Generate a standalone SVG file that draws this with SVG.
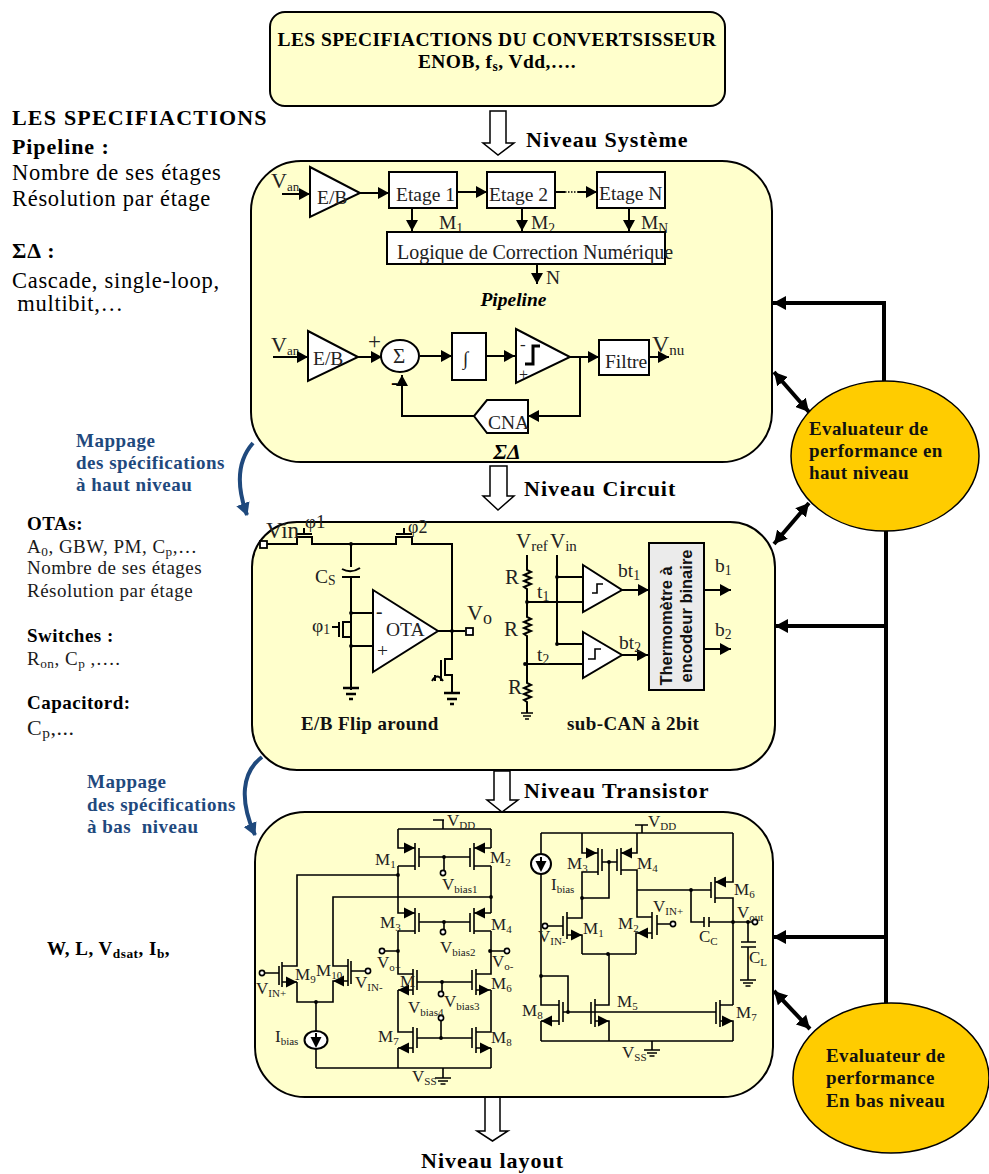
<svg xmlns="http://www.w3.org/2000/svg" width="989" height="1174" viewBox="0 0 989 1174">
<style>
text{font-family:"Liberation Serif","Times New Roman",serif;fill:#000;white-space:pre}
.ss{font-family:"Liberation Sans",Arial,sans-serif;font-weight:bold;font-size:16.5px;fill:#111}
.b{font-weight:bold}
.top{font-weight:bold;font-size:19.5px;letter-spacing:.43px}
.cap{font-weight:bold;font-size:19px;letter-spacing:.4px;fill:#111}
.h{font-weight:bold;font-size:22px;letter-spacing:1px}
.l{font-size:22.5px;letter-spacing:.7px}
.lb{font-weight:bold;font-size:22px;letter-spacing:.9px}
.lt{font-weight:bold;font-size:22px;letter-spacing:1.2px}
.m{font-size:19px;letter-spacing:.5px;fill:#1a1a1a}
.mb{font-weight:bold;font-size:19px;letter-spacing:.5px}
.bl{font-weight:bold;font-size:19px;letter-spacing:.5px;fill:#1F497D}
.e{font-weight:bold;font-size:19px;letter-spacing:.4px;fill:#111}
.t{font-size:19.5px;fill:#222}
.c{font-size:17px;fill:#222}
.c .s{font-size:11px}
.s{font-size:.7em}
.block{fill:#FFFFCC;stroke:#000;stroke-width:2}
.box{fill:#fff;stroke:#000;stroke-width:2}
.w{fill:none;stroke:#000;stroke-width:1.6}
.w2{fill:none;stroke:#000;stroke-width:2}
.thick{fill:none;stroke:#000;stroke-width:4}
.hollow{fill:#fff;stroke:#000;stroke-width:1.5}
.eval{fill:#FFCC00;stroke:#000;stroke-width:1.5}
.open{fill:#fff;stroke:#000;stroke-width:1.8}
.blue{fill:none;stroke:#1F497D;stroke-width:4}
</style>
<defs>
<marker id="a" markerUnits="userSpaceOnUse" markerWidth="12" markerHeight="12" refX="11" refY="6" orient="auto"><path d="M0,0L11,6L0,12Z" fill="#000"/></marker>
<marker id="big" markerUnits="userSpaceOnUse" markerWidth="14" markerHeight="14" refX="13" refY="7" orient="auto-start-reverse"><path d="M0,0L13,7L0,14Z" fill="#000"/></marker>
<marker id="mb" markerUnits="userSpaceOnUse" markerWidth="14" markerHeight="14" refX="12" refY="7" orient="auto"><path d="M0,0L13,7L0,14Z" fill="#1F497D"/></marker>
<path id="ar" d="M0,0L-11,-5.5L-11,5.5Z" fill="#000"/>
<circle id="n" r="1.9" fill="#000"/>
<circle id="o" r="2.6" fill="#fff" stroke="#000" stroke-width="1.6"/>
<path id="g" d="M-8,0H8M-5,3H5M-2.5,6H2.5" fill="none" stroke="#000" stroke-width="1.5"/>
<path id="G" d="M-8,0H8M-5,6H5M-2,11H2" fill="none" stroke="#000" stroke-width="2.5"/>
</defs>

<g id="connectors">
<g id="level-arrows">
<path class="hollow" d="M490,111H506V143H514L498,155L483,143H490Z"/>
<path class="hollow" d="M490,466H507V496H514L498,510L483,496H490Z"/>
<path class="hollow" d="M494,771H510V800H518L502,812L487,800H494Z"/>
<path class="hollow" d="M485,1097H500V1131H508L492.5,1141L477,1131H485Z"/>
</g>
<g id="feedback">
<path class="thick" d="M884,381V303H773" marker-end="url(#big)"/>
<path class="thick" d="M886,531V1003"/>
<path class="thick" d="M886,626H775" marker-end="url(#big)"/>
<path class="thick" d="M886,937H773" marker-end="url(#big)"/>
<path class="thick" d="M774,372L809,412" marker-start="url(#big)" marker-end="url(#big)"/>
<path class="thick" d="M809,503L774,544" marker-start="url(#big)" marker-end="url(#big)"/>
<path class="thick" d="M774,991L810,1029" marker-start="url(#big)" marker-end="url(#big)"/>
</g>
<g id="mapping">
<path class="blue" d="M253,443C238,460 236,485 247,515" marker-end="url(#mb)"/>
<path class="blue" d="M262,757C242,772 239,800 255,835" marker-end="url(#mb)"/>
</g>
</g>

<g id="spec-box">
<rect class="block" x="270" y="12" width="455" height="94" rx="15"/>
<text class="top" x="497" y="46" text-anchor="middle">LES SPECIFIACTIONS DU CONVERTSISSEUR</text>
<text class="top" x="497" y="68" text-anchor="middle">ENOB, f<tspan class="s" dy="3">s</tspan><tspan dy="-3">, Vdd,….</tspan></text>
</g>

<g id="left-notes">
<text class="lt" x="12" y="125">LES SPECIFIACTIONS</text>
<text class="lb" x="12" y="154" font-size="20">Pipeline :</text>
<text class="l" x="12" y="180">Nombre de ses étages</text>
<text class="l" x="12" y="206">Résolution par étage</text>
<text class="lb" x="12" y="258">ΣΔ :</text>
<text class="l" x="12" y="288">Cascade, single-loop,</text>
<text class="l" x="11" y="311"> multibit,…</text>
<text class="bl" x="76" y="447">Mappage</text>
<text class="bl" x="76" y="469">des spécifications</text>
<text class="bl" x="76" y="491">à haut niveau</text>
<text class="mb" x="27" y="530">OTAs:</text>
<text class="m" x="27" y="553">A<tspan class="s" dy="3">0</tspan><tspan dy="-3">, GBW, PM, C</tspan><tspan class="s" dy="3">p</tspan><tspan dy="-3">,…</tspan></text>
<text class="m" x="27" y="574">Nombre de ses étages</text>
<text class="m" x="27" y="597">Résolution par étage</text>
<text class="mb" x="27" y="642">Switches :</text>
<text class="m" x="27" y="665">R<tspan class="s" dy="3">on</tspan><tspan dy="-3">, C</tspan><tspan class="s" dy="3">p</tspan><tspan dy="-3"> ,….</tspan></text>
<text class="mb" x="27" y="709">Capacitord:</text>
<text class="m" x="27" y="735" style="font-size:22px">C<tspan class="s" dy="3">p</tspan><tspan dy="-3">,...</tspan></text>
<text class="bl" x="87" y="788">Mappage</text>
<text class="bl" x="87" y="811">des spécifications</text>
<text class="bl" x="87" y="833">à bas  niveau</text>
<text class="mb" x="47" y="955">W, L, V<tspan class="s" dy="3">dsat</tspan><tspan dy="-3">, I</tspan><tspan class="s" dy="3">b</tspan><tspan dy="-3">,</tspan></text>
</g>

<text class="h" x="526" y="147">Niveau Système</text>
<text class="h" x="524" y="496">Niveau Circuit</text>
<text class="h" x="524" y="798">Niveau Transistor</text>
<text class="h" x="421" y="1168">Niveau layout</text>

<g id="system-level">
<rect class="block" x="251" y="161" width="521" height="301" rx="50"/>
<g id="pipeline-labels">
<text class="t" x="271" y="188" style="font-size:22px">V<tspan class="s" dy="3" style="font-size:13px">an</tspan></text>
<text class="t" x="439" y="229">M<tspan class="s" dy="4">1</tspan></text>
<text class="t" x="531" y="229">M<tspan class="s" dy="4">2</tspan></text>
<text class="t" x="641" y="229">M<tspan class="s" dy="4">N</tspan></text>
</g>
<g id="pipeline-connectors">
<path class="w2" d="M282,194H310" marker-end="url(#a)"/>
<path class="w2" d="M360,193H389" marker-end="url(#a)"/>
<path class="w2" d="M457,192H487" marker-end="url(#a)"/>
<path class="w2" d="M556,192H565"/>
<path class="w" stroke-dasharray="1.5 1.5" d="M565,192H578"/>
<path class="w2" d="M578,192H597" marker-end="url(#a)"/>
<path class="w2" d="M412,208V231" marker-end="url(#a)"/>
<path class="w2" d="M522,208V231" marker-end="url(#a)"/>
<path class="w2" d="M629,208V231" marker-end="url(#a)"/>
<path class="w2" d="M537,264V284" marker-end="url(#a)"/>
</g>
<g id="eb1"><path class="box" d="M310,167L360,193L310,217Z"/><text class="t" x="317" y="204">E/B</text></g>
<g id="etage1"><rect class="box" x="389" y="172" width="68" height="36"/><text class="t" x="396" y="201">Etage 1</text></g>
<g id="etage2"><rect class="box" x="487" y="172" width="68" height="36"/><text class="t" x="489" y="201">Etage 2</text></g>
<g id="etageN"><rect class="box" x="597" y="172" width="68" height="36"/><text class="t" x="599" y="200">Etage N</text></g>
<g id="logique"><rect class="box" x="387" y="232" width="278" height="32"/><text class="t" x="397" y="259" style="font-size:20px">Logique de Correction Numérique</text></g>
<text class="t" x="546" y="284">N</text>
<text class="b" x="513.5" y="306" text-anchor="middle" font-size="19.5" font-style="italic" fill="#111">Pipeline</text>

<text class="t" x="271" y="352" style="font-size:22px">V<tspan class="s" dy="3" style="font-size:13px">an</tspan></text>
<g id="sd-connectors">
<path class="w2" d="M273,357H308" marker-end="url(#a)"/>
<path class="w2" d="M358,357H382" marker-end="url(#a)"/>
<path class="w2" d="M420,356H452" marker-end="url(#a)"/>
<path class="w2" d="M486,356H515" marker-end="url(#a)"/>
<path class="w2" d="M570,357H599" marker-end="url(#a)"/>
<path class="w2" d="M580,357V416H528" marker-end="url(#a)"/>
<path class="w2" d="M474,416H402V375" marker-end="url(#a)"/>
<path class="w2" d="M649,357H669" marker-end="url(#a)"/>
</g>
<g id="eb2"><path class="box" d="M308,331L358,357L308,381Z"/><text class="t" x="313" y="365">E/B</text></g>
<g id="sum"><ellipse class="box" cx="400" cy="356" rx="19" ry="16"/><text class="t" x="393" y="363" style="font-size:21px">Σ</text></g>
<text class="t" x="368" y="349" style="font-size:23px">+</text>
<text class="b" x="391" y="389" font-size="22">-</text>
<g id="integ"><rect class="box" x="452" y="333" width="34" height="47"/><text class="t" x="463" y="365" style="font-size:19px">∫</text></g>
<g id="comp"><path class="box" d="M516,329L570,357L516,383Z"/><path class="thick" style="stroke-width:3" d="M525,364H533V346H540"/><text class="t" x="520" y="350" style="font-size:17px">-</text><text class="t" x="519" y="380" style="font-size:16px">+</text></g>
<g id="filtre"><rect class="box" x="599" y="340" width="50" height="35"/><text class="t" x="605" y="368">Filtre</text></g>
<text class="t" x="652" y="352" style="font-size:24px">V<tspan dy="3" style="font-size:15px">nu</tspan></text>
<g id="cna"><path class="box" d="M528,400H487L474,416L487,433H528Z"/><text class="t" x="488" y="429">CNA</text></g>
<text class="b" x="507" y="459" text-anchor="middle" font-size="22" font-style="italic" fill="#111">ΣΔ</text>
</g>

<g id="circuit-level">
<rect class="block" x="252" y="522" width="523" height="248" rx="45"/>
<g id="flip-around">
<path class="w2" d="M267,544H297V537H312V544H396V537H412V544H452V659H445V675H452V693"/>
<path class="w2" d="M351,544V567M351,578V690M351,613H373M351,646H373M351,622H343V637H351"/>
<path class="w2" d="M339,622V637M332,627H339"/>
<path class="w2" d="M297,534H312M396,534H412M304,528V534M404,528V534"/>
<path class="w2" d="M342,577H360"/><path class="w2" d="M342,569Q351,574 360,568"/>
<path class="box" d="M373,590L438,631L373,672Z"/>
<path class="w2" d="M438,631H465"/>
<rect class="open" x="466" y="628" width="7" height="7"/>
<rect class="open" x="260" y="541" width="7" height="7"/>
<path class="w2" d="M441,660V675M435,675V681M441,675V681M432,681Q437,672 443,681"/>
<use href="#n" x="351" y="544"/><use href="#n" x="351" y="613"/><use href="#n" x="351" y="646"/><use href="#n" x="452" y="631"/>
<use href="#G" x="351" y="688"/><use href="#G" x="452" y="693"/>
<text class="t" x="266" y="538" style="font-size:23px">Vin</text>
<text class="t" x="305" y="528" style="font-size:19px">φ1</text>
<text class="t" x="408" y="533" style="font-size:18px">φ2</text>
<text class="t" x="315" y="583">C<tspan class="s" dy="2">S</tspan></text>
<text class="t" x="312" y="632">φ<tspan class="s" dy="2">1</tspan></text>
<text class="t" x="376" y="618" font-weight="bold">-</text>
<text class="t" x="377" y="657">+</text>
<text class="t" x="386" y="636">OTA</text>
<text class="t" x="467" y="620" style="font-size:22px">V<tspan dy="4" style="font-size:18px">o</tspan></text>
<text class="cap" x="301" y="730">E/B Flip around</text>
</g>
<g id="sub-can">
<path class="w2" d="M527,555V570l4,2l-7,3l7,3l-7,3l7,3l-7,3l3,2V617l4,2l-7,3l7,3l-7,3l7,3l-7,3l3,2V683l4,2l-7,3l7,3l-7,3l7,3l-7,3l3,2V713"/>
<path class="w2" d="M557,555V644H583M557,577H583M527,602H583M525,664H583"/>
<path class="box" d="M583,565L622,590L583,612Z"/>
<path class="box" d="M583,632L622,655L583,678Z"/>
<path class="w" d="M592,593H597V584H603M588,659H595V649H601"/>
<path class="w2" d="M622,590H649" marker-end="url(#a)"/>
<path class="w2" d="M622,655H648" marker-end="url(#a)"/>
<path class="w2" d="M704,590H731" marker-end="url(#a)"/>
<path class="w2" d="M704,649H731" marker-end="url(#a)"/>
<use href="#n" x="557" y="577"/><use href="#n" x="557" y="644"/><use href="#n" x="527" y="602"/><use href="#n" x="525" y="664"/>
<path class="w" d="M521,713H533M523,716H531M525,719H529"/>
<rect x="649" y="543" width="55" height="147" fill="#EBEBEB" stroke="#000" stroke-width="2"/>
<text class="ss" transform="translate(672,626) rotate(-90)" text-anchor="middle">Thermomètre à</text>
<text class="ss" transform="translate(692,616) rotate(-90)" text-anchor="middle">encodeur binaire</text>
<text class="t" x="516" y="548" style="font-size:21px">V<tspan dy="3" style="font-size:15px">ref</tspan></text>
<text class="t" x="550" y="548" style="font-size:21px">V<tspan dy="3" style="font-size:15px">in</tspan></text>
<text class="t" x="505" y="584" style="font-size:21px">R</text>
<text class="t" x="504" y="636" style="font-size:21px">R</text>
<text class="t" x="508" y="694" style="font-size:21px">R</text>
<text class="t" x="537" y="598">t<tspan class="s" dy="3">1</tspan></text>
<text class="t" x="537" y="661">t<tspan class="s" dy="3">2</tspan></text>
<text class="t" x="618" y="577">bt<tspan class="s" dy="3">1</tspan></text>
<text class="t" x="619" y="649">bt<tspan class="s" dy="3">2</tspan></text>
<text class="t" x="715" y="572">b<tspan class="s" dy="3">1</tspan></text>
<text class="t" x="715" y="636">b<tspan class="s" dy="3">2</tspan></text>
<text class="cap" x="567" y="730">sub-CAN à 2bit</text>
</g>
</g>

<g id="transistor-level">
<rect class="block" x="255" y="812" width="518" height="285" rx="50"/>
<g id="ota-left">
<path class="w" d="M433,820H444M443,820V829M398,829H491"/>
<path class="w" d="M398,829V848H415M415,843V870M398,866H415M419,848V867M419,857H470M470,848V867M474,843V870M474,848H491M474,866H491M491,829V848"/>
<path class="w" d="M398,866V913H415M415,908V934M398,931H415M419,913V932M419,922H470M470,913V932M474,908V934M474,913H491M474,931H491M491,866V913"/>
<path class="w" d="M444,857V871M444,922V931"/>
<path class="w" d="M398,875H297V966H282M491,897H333V966H348"/>
<path class="w" d="M398,931V974H413M382,951H398M491,931V974H476M491,951H505"/>
<path class="w" d="M413,969V995M417,970V990M417,982H472M472,970V990M476,969V995M442,982V993"/>
<path class="w" d="M398,990H413M398,990V1032H413M491,990H476M491,990V1032H476"/>
<path class="w" d="M413,1027V1053M417,1028V1048M417,1038H472M472,1028V1048M476,1027V1053M441,1038V1021"/>
<path class="w" d="M398,1048H413M398,1048V1068M491,1048H476M491,1048V1068M316,1068H491M443,1068V1078"/>
<path class="w" d="M265,973H279M279,966V985M282,962V987M297,982H282M297,982V1002H333V981H348M348,959V986M351,961V984M351,971H365"/>
<path class="w" d="M316,1002V1031M316,1049V1068"/>
<ellipse cx="316" cy="1040" rx="11.5" ry="9" fill="#fff" stroke="#000" stroke-width="2"/>
<path class="w2" d="M316,1033V1042"/><use href="#ar" transform="translate(316,1048) rotate(90)"/>
<use href="#ar" x="415" y="848"/><use href="#ar" transform="translate(474,848) rotate(180)"/>
<use href="#ar" x="415" y="913"/><use href="#ar" transform="translate(474,913) rotate(180)"/>
<use href="#ar" transform="translate(398,990) rotate(180)"/><use href="#ar" x="490" y="990"/>
<use href="#ar" transform="translate(398,1048) rotate(180)"/><use href="#ar" x="491" y="1048"/>
<use href="#ar" x="297" y="982"/><use href="#ar" transform="translate(333,981) rotate(180)"/>
<use href="#n" x="444" y="857"/><use href="#n" x="444" y="922"/><use href="#n" x="398" y="875"/><use href="#n" x="491" y="897"/><use href="#n" x="398" y="951"/><use href="#n" x="490" y="951"/><use href="#n" x="442" y="982"/><use href="#n" x="441" y="1038"/><use href="#n" x="316" y="1002"/>
<use href="#o" x="443" y="873"/><use href="#o" x="443" y="932"/><use href="#o" x="382" y="951"/><use href="#o" x="507" y="951"/><use href="#o" x="441" y="994"/><use href="#o" x="441" y="1018"/><use href="#o" x="262" y="973"/><use href="#o" x="368" y="971"/>
<use href="#g" x="443" y="1078"/>
<text class="c" x="447" y="826">V<tspan class="s" dy="3">DD</tspan></text>
<text class="c" x="375" y="865">M<tspan class="s" dy="3">1</tspan></text>
<text class="c" x="490" y="863">M<tspan class="s" dy="3">2</tspan></text>
<text class="c" x="442" y="890">V<tspan class="s" dy="3">bias1</tspan></text>
<text class="c" x="380" y="928">M<tspan class="s" dy="3">3</tspan></text>
<text class="c" x="491" y="930">M<tspan class="s" dy="3">4</tspan></text>
<text class="c" x="440" y="953">V<tspan class="s" dy="3">bias2</tspan></text>
<text class="c" x="377" y="968">V<tspan class="s" dy="3">o+</tspan></text>
<text class="c" x="492" y="967">V<tspan class="s" dy="3">o-</tspan></text>
<text class="c" x="295" y="980">M<tspan class="s" dy="3">9</tspan></text>
<text class="c" x="316" y="976">M<tspan class="s" dy="3">10</tspan></text>
<text class="c" x="256" y="994">V<tspan class="s" dy="3">IN+</tspan></text>
<text class="c" x="355" y="988">V<tspan class="s" dy="3">IN-</tspan></text>
<text class="c" x="400" y="987">M</text>
<text class="c" x="491" y="989">M<tspan class="s" dy="3">6</tspan></text>
<text class="c" x="444" y="1007">V<tspan class="s" dy="3">bias3</tspan></text>
<text class="c" x="408" y="1013">V<tspan class="s" dy="3">bias4</tspan></text>
<text class="c" x="378" y="1042">M<tspan class="s" dy="3">7</tspan></text>
<text class="c" x="491" y="1043">M<tspan class="s" dy="3">8</tspan></text>
<text class="c" x="275" y="1042">I<tspan class="s" dy="3">bias</tspan></text>
<text class="c" x="412" y="1082">V<tspan class="s" dy="3">SS</tspan></text>
</g>
<g id="ota-right">
<path class="w" d="M635,825H648M642,825V833M541,833H733"/>
<path class="w" d="M541,833V854M541,874V1005H559M559,1000V1025M563,1002V1022M541,1021H559M541,1021V1041M541,1041H733M652,1041V1050"/>
<path class="w" d="M541,976H568V1012M563,1012H716M595,999V1027M591,1002V1024M595,1005H609V954M582,954H636M595,1021H609V1041"/>
<path class="w" d="M720,1000V1027M716,1002V1024M720,1005H733M720,1021H733V1041"/>
<path class="w" d="M582,833V853H598M598,848V875M602,849V871M602,862H617M617,849V871M621,848V875M621,853H637V833M609,862V898H582M598,872H582V918H567M621,870H637V917H652"/>
<path class="w" d="M567,912V939M563,916V936M548,926H563M567,935H582V954M652,912V939M657,915V935M657,924H671M652,933H636V954"/>
<path class="w" d="M637,890H711M711,882V898M715,877V903M715,882H733V833M715,898H733V1005M691,890V922H704M704,917V927M709,917V927M709,922H752"/>
<path class="w" d="M748,922V942M741,942H756M741,947H756M748,947V980"/>
<ellipse cx="541" cy="864" rx="10" ry="10" fill="#fff" stroke="#000" stroke-width="2"/>
<path class="w2" d="M541,857V866"/><use href="#ar" transform="translate(541,872) rotate(90)"/>
<use href="#ar" x="597" y="853"/><use href="#ar" transform="translate(621,853) rotate(180)"/>
<use href="#ar" transform="translate(715,882) rotate(180)"/><use href="#ar" x="582" y="935"/><use href="#ar" transform="translate(637,933) rotate(180)"/>
<use href="#ar" transform="translate(541,1021) rotate(180)"/><use href="#ar" x="609" y="1021"/><use href="#ar" x="733" y="1021"/>
<use href="#n" x="609" y="862"/><use href="#n" x="582" y="898"/><use href="#n" x="691" y="890"/><use href="#n" x="733" y="922"/><use href="#n" x="748" y="922"/><use href="#n" x="608" y="954"/><use href="#n" x="541" y="976"/><use href="#n" x="568" y="1012"/>
<use href="#o" x="545" y="926"/><use href="#o" x="673" y="924"/><use href="#o" x="755" y="922"/>
<use href="#g" x="748" y="980"/><use href="#g" x="652" y="1050"/>
<text class="c" x="648" y="827">V<tspan class="s" dy="3">DD</tspan></text>
<text class="c" x="567" y="869">M<tspan class="s" dy="3">3</tspan></text>
<text class="c" x="637" y="869">M<tspan class="s" dy="3">4</tspan></text>
<text class="c" x="551" y="890">I<tspan class="s" dy="3">bias</tspan></text>
<text class="c" x="653" y="912">V<tspan class="s" dy="3">IN+</tspan></text>
<text class="c" x="583" y="934">M<tspan class="s" dy="3">1</tspan></text>
<text class="c" x="618" y="929">M<tspan class="s" dy="3">2</tspan></text>
<text class="c" x="538" y="942">V<tspan class="s" dy="3">IN-</tspan></text>
<text class="c" x="734" y="895">M<tspan class="s" dy="3">6</tspan></text>
<text class="c" x="737" y="918">V<tspan class="s" dy="3">out</tspan></text>
<text class="c" x="699" y="942">C<tspan class="s" dy="3">C</tspan></text>
<text class="c" x="749" y="963">C<tspan class="s" dy="3">L</tspan></text>
<text class="c" x="617" y="1007">M<tspan class="s" dy="3">5</tspan></text>
<text class="c" x="522" y="1016">M<tspan class="s" dy="3">8</tspan></text>
<text class="c" x="736" y="1018">M<tspan class="s" dy="3">7</tspan></text>
<text class="c" x="622" y="1058">V<tspan class="s" dy="3">SS</tspan></text>
</g>
</g>

<g id="evaluator-high">
<ellipse class="eval" cx="885" cy="456" rx="94" ry="75"/>
<text class="e" x="809" y="435">Evaluateur de</text>
<text class="e" x="809" y="457">performance en</text>
<text class="e" x="809" y="479">haut niveau</text>
</g>
<g id="evaluator-low">
<ellipse class="eval" cx="891" cy="1078" rx="98" ry="75"/>
<text class="e" x="826" y="1062">Evaluateur de</text>
<text class="e" x="826" y="1084">performance</text>
<text class="e" x="826" y="1107">En bas niveau</text>
</g>
</svg>
